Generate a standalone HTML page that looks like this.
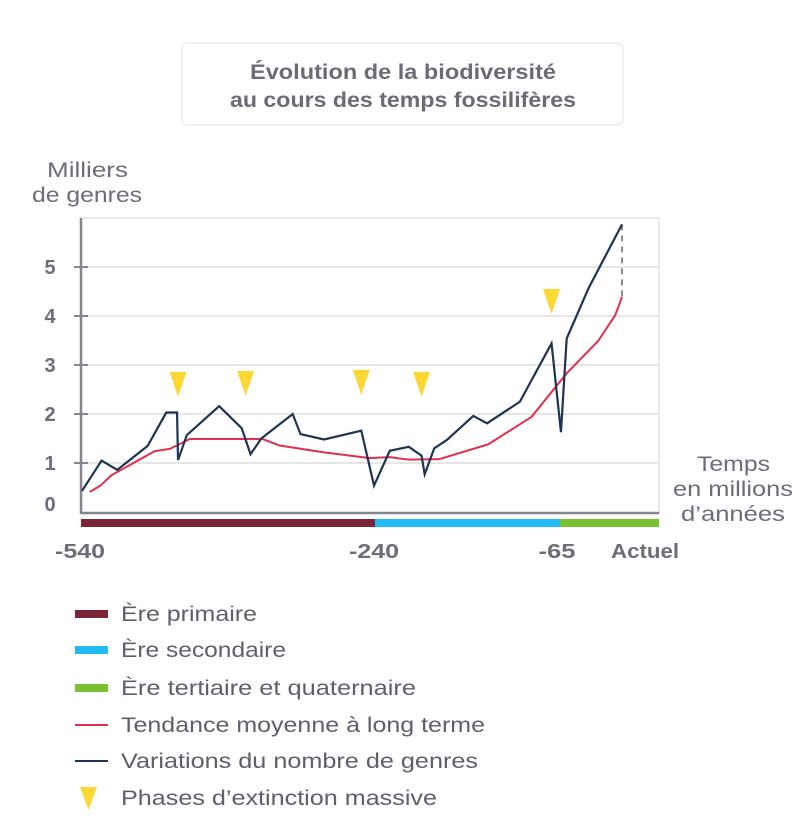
<!DOCTYPE html>
<html><head><meta charset="utf-8"><style>
body{margin:0;background:#fff;}
svg{display:block;font-family:"Liberation Sans",sans-serif;}
</style></head><body>
<svg id="chart" width="805" height="839" viewBox="0 0 805 839">
<rect x="182" y="43" width="441" height="82" rx="6" fill="#fff" stroke="#ececec" stroke-width="1.5"/>
<text x="250" y="79" textLength="306" lengthAdjust="spacingAndGlyphs" font-size="21" font-weight="bold" fill="#6b6b75">Évolution de la biodiversité</text>
<text x="230" y="107" textLength="346" lengthAdjust="spacingAndGlyphs" font-size="21" font-weight="bold" fill="#6b6b75">au cours des temps fossilifères</text>
<text x="47" y="177" textLength="81" lengthAdjust="spacingAndGlyphs" font-size="21" fill="#6d6d78">Milliers</text>
<text x="32" y="202" textLength="110" lengthAdjust="spacingAndGlyphs" font-size="21" fill="#6d6d78">de genres</text>
<text x="697" y="471" textLength="73" lengthAdjust="spacingAndGlyphs" font-size="21" fill="#6d6d78">Temps</text>
<text x="673" y="496" textLength="120" lengthAdjust="spacingAndGlyphs" font-size="21" fill="#6d6d78">en millions</text>
<text x="681" y="521" textLength="104" lengthAdjust="spacingAndGlyphs" font-size="21" fill="#6d6d78">d’années</text>
<g id="plot"></g>
<g>
<rect x="75" y="610" width="33" height="8" fill="#7b2536"/>
<text x="121" y="621" textLength="136" lengthAdjust="spacingAndGlyphs" font-size="21" fill="#5f5f6a">Ère primaire</text>
<rect x="75" y="646" width="33" height="8" fill="#22bbf5"/>
<text x="121" y="657" textLength="165" lengthAdjust="spacingAndGlyphs" font-size="21" fill="#5f5f6a">Ère secondaire</text>
<rect x="75" y="684" width="33" height="8" fill="#79c22f"/>
<text x="121" y="695" textLength="295" lengthAdjust="spacingAndGlyphs" font-size="21" fill="#5f5f6a">Ère tertiaire et quaternaire</text>
<line x1="75" y1="725" x2="108" y2="725" stroke="#e0304e" stroke-width="2"/>
<text x="121" y="732" textLength="364" lengthAdjust="spacingAndGlyphs" font-size="21" fill="#5f5f6a">Tendance moyenne à long terme</text>
<line x1="75" y1="761" x2="108" y2="761" stroke="#1d3452" stroke-width="2"/>
<text x="121" y="768" textLength="357" lengthAdjust="spacingAndGlyphs" font-size="21" fill="#5f5f6a">Variations du nombre de genres</text>
<polygon points="80,787 97,787 88.5,810" fill="#fdd835"/>
<text x="121" y="805" textLength="316" lengthAdjust="spacingAndGlyphs" font-size="21" fill="#5f5f6a">Phases d’extinction massive</text>
</g>
</svg>
<script>
const yTicks=[0,1,2,3,4,5];
const xTickValues=[-540,-240,-65,0];
const xTickLabels=["-540","-240","-65","Actuel"];
const blackX=[-539,-519,-503,-472,-453,-442,-441,-432,-399,-376,-367,-356,-324,-316,-292,-254,-241,-226,-208,-196,-193,-184,-172,-147,-134,-103,-73,-64,-58,-35,0];
const blackY=[0.43,1.05,0.86,1.35,2.03,2.03,1.06,1.57,2.16,1.71,1.18,1.50,2.00,1.59,1.48,1.66,0.54,1.25,1.33,1.15,0.77,1.30,1.47,1.96,1.81,2.25,3.44,1.63,3.54,4.57,5.87];
const redX=[-531,-520,-509,-465,-449,-429,-355,-338,-293,-245,-226,-209,-179,-133,-92,-58,-25,-7,0];
const redY=[0.41,0.54,0.75,1.24,1.29,1.49,1.49,1.36,1.22,1.10,1.12,1.07,1.08,1.38,1.94,2.83,3.49,4.02,4.39];
const extinctX=[-441,-372,-254,-196,-73];
const extinctY=[2.86,2.88,2.90,2.86,4.55];
const eraStart=[-540,-240,-65];
const eraEnd=[-240,-65,37];
const eraColors=["#7b2536","#22bbf5","#79c22f"];
const eraNames=["era-primaire","era-secondaire","era-tertiaire"];

const xd=[-540,-240,-65,0,37], xr=[81,375,560,622,659];
function X(v){for(let i=0;i<xd.length-1;i++){if(v<=xd[i+1]||i===xd.length-2){return xr[i]+(v-xd[i])*(xr[i+1]-xr[i])/(xd[i+1]-xd[i]);}}}
function Y(v){return 512-49*v;}
const NS="http://www.w3.org/2000/svg";
const g=document.getElementById('plot');
function mk(t,a){const e=document.createElementNS(NS,t);for(const k in a)e.setAttribute(k,a[k]);g.appendChild(e);return e;}
let e;
e=mk('rect',{x:81,y:218,width:578,height:295,fill:'none',stroke:'#e2e2e2','stroke-width':1.5});


yTicks.forEach(t=>{
 if(t>0){e=mk('line',{x1:81,x2:659,y1:Y(t),y2:Y(t),stroke:'#e6e6e6','stroke-width':2});
 
 
 e=mk('line',{x1:74,x2:88,y1:Y(t),y2:Y(t),stroke:'#85858c','stroke-width':2});
 
 }
 e=mk('text',{x:50,y:(t===0?Y(t)-1:Y(t)+7),'text-anchor':'middle','font-size':20,'font-weight':'bold',fill:'#6d6d78'});
 e.textContent=t;
 
 
});
e=mk('line',{x1:81,x2:81,y1:218,y2:514,stroke:'#85858c','stroke-width':2.5});


e=mk('line',{x1:80,x2:659,y1:513,y2:513,stroke:'#85858c','stroke-width':2.5});


eraStart.forEach((s,i)=>{
 e=mk('rect',{x:X(s),y:519,width:X(eraEnd[i])-X(s),height:8,fill:eraColors[i]});
 
 
});
const xoff=[-1,-1,-3,23];
const xlen=[50,50,37,68];
xTickValues.forEach((v,i)=>{
 e=mk('text',{x:X(v)+xoff[i]-xlen[i]/2,y:558,textLength:xlen[i],lengthAdjust:'spacingAndGlyphs','font-size':20,'font-weight':'bold',fill:'#6d6d78'});
 e.textContent=xTickLabels[i];
 
 
});
e=mk('line',{x1:X(0),x2:X(0),y1:Y(blackY[blackY.length-1]),y2:Y(redY[redY.length-1]),stroke:'#8a8a90','stroke-width':2,'stroke-dasharray':'6,5'});


e=mk('polyline',{points:redX.map((x,i)=>X(x)+','+Y(redY[i])).join(' '),fill:'none',stroke:'#e0304e','stroke-width':2,'stroke-linejoin':'round'});


e=mk('polyline',{points:blackX.map((x,i)=>X(x)+','+Y(blackY[i])).join(' '),fill:'none',stroke:'#1d3452','stroke-width':2.2,'stroke-linejoin':'miter'});


extinctX.forEach((v,i)=>{
 const cx=X(v),ty=Y(extinctY[i]);
 e=mk('polygon',{points:`${cx-8.5},${ty} ${cx+8.5},${ty} ${cx},${ty+25}`,fill:'#fdd835'});
 
 
});
</script>
</body></html>
